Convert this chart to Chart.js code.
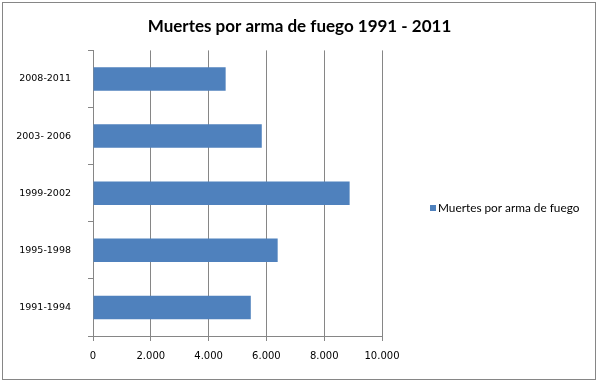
<!DOCTYPE html>
<html>
<head>
<meta charset="utf-8">
<script src="https://cdn.jsdelivr.net/npm/chart.js@4"></script>
<style>
html,body{margin:0;padding:0;background:#fff;}
#wrap{width:599px;height:383px;position:relative;}
</style>
</head>
<body>
<div id="wrap"><canvas id="c" width="599" height="383"></canvas></div>
<script>
const categories = ['2008-2011', '2003- 2006', '1999-2002', '1995-1998', '1991-1994'];
const values = [4590, 5840, 8880, 6390, 5460];
const seriesName = 'Muertes por arma de fuego';
const titleText = 'Muertes por arma de fuego 1991 - 2011';
const xTicks = [0, 2000, 4000, 6000, 8000, 10000];

const GRAY = '#868686';
const BAR = '#4F81BD';

function fmt(v) {
  return String(v).replace(/\B(?=(\d{3})+(?!\d))/g, '.');
}

const frame = {
  id: 'frame',
  afterDraw(chart) {
    const ctx = chart.ctx;
    ctx.save();
    ctx.strokeStyle = GRAY;
    ctx.lineWidth = 1;
    ctx.strokeRect(2.5, 2.5, 593, 377);
    ctx.restore();
  }
};

const sideLegend = {
  id: 'sideLegend',
  afterDraw(chart) {
    const ctx = chart.ctx;
    const ds = chart.data.datasets[0];
    const y = 208;
    ctx.save();
    ctx.fillStyle = ds.backgroundColor;
    ctx.fillRect(430, y - 3, 6, 6);
    ctx.fillStyle = '#000';
    ctx.font = '11.8px Lato';
    ctx.textBaseline = 'middle';
    ctx.textAlign = 'left';
    ctx.fillText(ds.label, 438, y);
    ctx.restore();
  }
};

new Chart(document.getElementById('c'), {
  type: 'bar',
  data: {
    labels: categories,
    datasets: [{
      label: seriesName,
      data: values,
      backgroundColor: BAR,
      borderWidth: 0,
      barPercentage: 0.41,
      categoryPercentage: 1.0
    }]
  },
  options: {
    indexAxis: 'y',
    responsive: false,
    animation: false,
    devicePixelRatio: 1,
    layout: { padding: { left: 0, right: 0, top: 0, bottom: 0 } },
    plugins: {
      legend: { display: false },
      tooltip: { enabled: false },
      title: {
        display: true,
        text: titleText,
        color: '#000',
        font: { family: 'Lato', size: 17, weight: 'bold' },
        padding: { top: 16, bottom: 14 },
        align: 'center'
      }
    },
    scales: {
      x: {
        type: 'linear',
        min: 0,
        max: 10000,
        afterBuildTicks(scale) { scale.ticks = xTicks.map(v => ({ value: v })); },
        afterFit(scale) { scale.height = 47; },
        ticks: {
          color: '#000',
          font: { family: 'DejaVu Sans', size: 10 },
          padding: 9,
          maxRotation: 0,
          callback: v => fmt(v)
        },
        grid: { color: GRAY, lineWidth: 1, tickLength: 5, drawOnChartArea: true },
        border: { display: true, color: GRAY, width: 1 }
      },
      y: {
        afterFit(scale) { scale.width = 93; },
        ticks: {
          color: '#000',
          font: { family: 'DejaVu Sans', size: 9.5 },
          padding: 17
        },
        grid: { display: true, drawOnChartArea: false, color: GRAY, tickLength: 5, offset: true },
        border: { display: true, color: GRAY, width: 1 }
      },
      legendSpace: {
        type: 'linear',
        position: 'right',
        display: true,
        afterFit(scale) { scale.width = 217; },
        ticks: { display: false },
        grid: { display: false, drawTicks: false },
        border: { display: false }
      }
    }
  },
  plugins: [frame, sideLegend]
});
</script>
</body>
</html>
